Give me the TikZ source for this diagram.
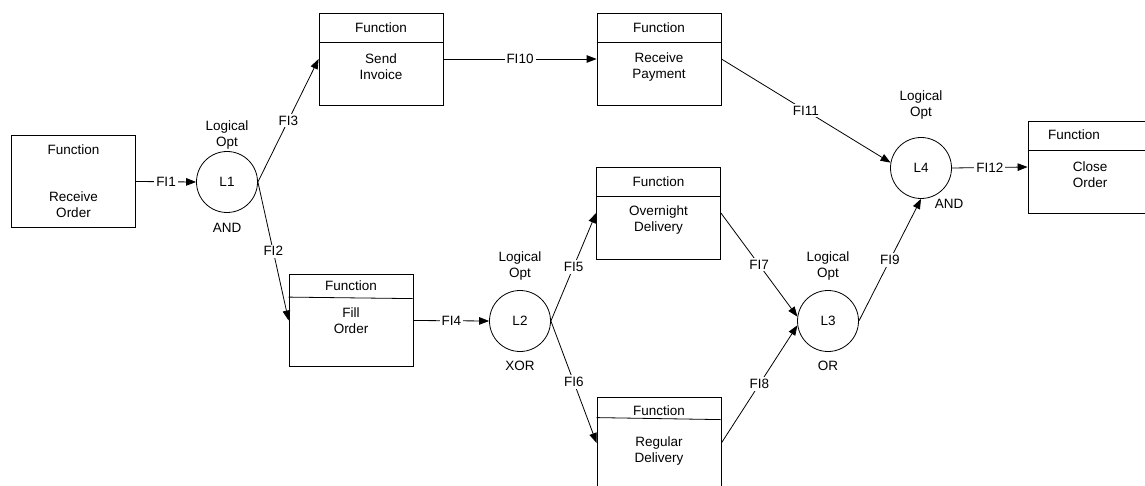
\documentclass[tikz,border=0pt]{standalone}
\usepackage{fontspec}
\setmainfont{Liberation Sans}
\usetikzlibrary{arrows.meta}

\begin{document}
\begin{tikzpicture}[x=1pt,y=-1pt,line width=0.8pt,
    every node/.style={font=\fontsize{13.5}{16}\selectfont,align=center},
    fbox/.style={draw,minimum width=124pt,minimum height=92pt,inner sep=0pt},
    lgc/.style={draw,circle,minimum size=61pt,inner sep=0pt},
    flow/.style={-{Triangle[length=10pt,width=7.5pt]}},
    fl/.style={fill=white,inner sep=2pt}]
		\useasboundingbox (0,0) rectangle (1145,486);
		\clip (0,0) rectangle (1145,486);
		% function boxes
		\node[fbox] (rcv) at (73.5,181.5) {};
		\node (rcvF) at (73.5,150) {Function};
		\node (rcvT) at (73.5,205) {Receive\\Order};
		\node[fbox] (inv) at (381,59) {};
		\draw (inv.north west) ++(0,30) -- ++(124,0);
		\node (invF) at (381,28) {Function};
		\node (invT) at (381,67) {Send\\Invoice};
		\node[fbox] (pay) at (659,59) {};
		\draw (pay.north west) ++(0,30) -- ++(124,0);
		\node (payF) at (659,28) {Function};
		\node (payT) at (659,67) {Receive\\Payment};
		\node[fbox] (fill) at (351,320.5) {};
		\draw (fill.north west) ++(0,23) -- ++(124,1.5);
		\node (fillF) at (351,286) {Function};
		\node (fillT) at (351,321) {Fill\\Order};
		\node[fbox] (ovn) at (658.5,213) {};
		\draw (ovn.north west) ++(0,30) -- ++(124,0);
		\node (ovnF) at (658.5,182) {Function};
		\node (ovnT) at (658.5,220) {Overnight\\Delivery};
		\node[fbox] (reg) at (659,443) {};
		\draw (reg.north west) ++(0,21) -- ++(124,2);
		\node (regF) at (659,411) {Function};
		\node (regT) at (659,451.5) {Regular\\Delivery};
		\node[fbox] (cls) at (1090,167) {};
		\draw (cls.north west) ++(0,30) -- ++(124,0);
		\node (clsF) at (1074,135) {Function};
		\node (clsT) at (1090,174.5) {Close\\Order};
		% logical operators
		\node[lgc] (L1) at (227,182) {L1};
		\node (L1t) at (227,135) {Logical\\Opt};
		\node (L1b) at (227,228) {AND};
		\node[lgc] (L2) at (520,321) {L2};
		\node (L2t) at (520,266) {Logical\\Opt};
		\node (L2b) at (520,366) {XOR};
		\node[lgc] (L3) at (828,321) {L3};
		\node (L3t) at (828,266) {Logical\\Opt};
		\node (L3b) at (828,366) {OR};
		\node[lgc] (L4) at (921,168) {L4};
		\node (L4t) at (921,105) {Logical\\Opt};
		\node (L4b) at (949,204) {AND};
		% flows
		\draw[flow] (rcv.east) -- node[fl] {FI1} (L1.west);
		\draw[flow] (L1.east) -- node[fl] {FI3} (inv.west);
		\draw[flow] (L1.east) -- node[fl] {FI2} (fill.west);
		\draw[flow] (inv.east) -- node[fl] {FI10} (pay.west);
		\draw[flow] (fill.east) -- node[fl] {FI4} (L2.west);
		\draw[flow] (L2.east) -- node[fl] {FI5} (ovn.west);
		\draw[flow] (L2.east) -- node[fl] {FI6} (reg.west);
		\draw[flow] (ovn.east) -- node[fl] {FI7} (L3.172);
		\draw[flow] (reg.east) -- node[fl] {FI8} (L3.188);
		\draw[flow] (pay.east) -- node[fl] {FI11} (L4.170);
		\draw[flow] (L3.east) -- node[fl] {FI9} (L4.south);
		\draw[flow] (L4.east) -- node[fl] {FI12} (cls.west);
	\end{tikzpicture}
\end{document}
